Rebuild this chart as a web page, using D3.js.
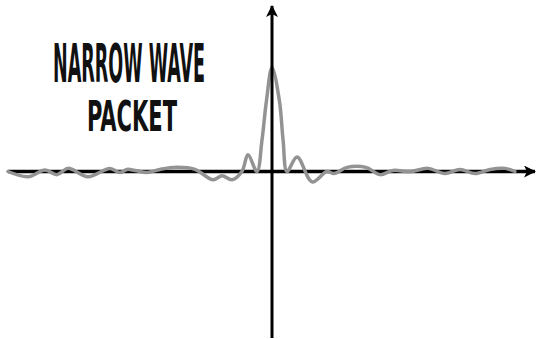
<!DOCTYPE html>
<html>
<head>
<meta charset="utf-8">
<script src="https://cdn.jsdelivr.net/npm/d3@7/dist/d3.min.js"></script>
<style>
html,body{margin:0;padding:0;background:#fff;}
svg{display:block;}
</style>
</head>
<body>
<svg id="chart" width="541" height="339"></svg>
<script>
// Data (x in arbitrary units, amplitude normalised to the peak)
const xValues = [-10.0,-9.24,-8.60,-8.14,-7.73,-6.97,-6.14,-5.76,-5.49,-5.19,-4.73,-4.24,-3.60,-2.92,-2.23,-1.89,-1.52,-1.14,-0.91,-0.57,-0.38,-0.21,0,0.28,0.42,0.57,0.95,1.52,2.08,2.35,2.84,3.56,4.09,4.58,5.23,5.91,6.55,7.12,7.69,8.26,8.83,9.20];
const yValues = [0.00,-0.05,0.015,-0.03,0.03,-0.05,0.03,-0.01,0.02,0.01,-0.01,0.02,0.04,0.02,-0.08,-0.04,-0.08,0.00,0.16,0.00,0.30,0.68,1.00,0.68,0.30,0.00,0.14,-0.10,0.00,-0.02,0.04,0.04,-0.03,0.01,0.00,0.03,-0.02,0.02,-0.02,0.02,0.03,0.00];
const titleLines = ["NARROW WAVE", "PACKET"];

const svg = d3.select("#chart");
const x = d3.scaleLinear().domain([-10, 10]).range([8, 536]);
const y = d3.scaleLinear().domain([-1.6, 1.6]).range([338, 5]);

const defs = svg.append("defs");
defs.append("marker").attr("id","arrow")
  .attr("viewBox","0 0 12 12").attr("refX",11).attr("refY",6)
  .attr("markerWidth",12).attr("markerHeight",12).attr("markerUnits","userSpaceOnUse")
  .attr("orient","auto")
  .append("path").attr("d","M0,0 L12,6 L0,12 L3,6 Z").attr("fill","#000");

// x axis (below curve)
svg.append("line")
  .attr("x1", x(-10)).attr("x2", x(10) - 1)
  .attr("y1", y(0)).attr("y2", y(0))
  .attr("stroke","#000").attr("stroke-width",3.5)
  .attr("marker-end","url(#arrow)");

const data = xValues.map((v,i)=>({x:v, y:yValues[i]}));
const line = d3.line().x(d=>x(d.x)).y(d=>y(d.y)).curve(d3.curveCatmullRom.alpha(0.5));
svg.append("path").datum(data)
  .attr("d", line)
  .attr("fill","none").attr("stroke","#939393").attr("stroke-width",3.5)
  .attr("stroke-linejoin","round").attr("stroke-linecap","round");

// y axis (on top)
svg.append("line")
  .attr("x1", x(0)).attr("x2", x(0))
  .attr("y1", y(-1.6)).attr("y2", y(1.6) + 1)
  .attr("stroke","#000").attr("stroke-width",3)
  .attr("marker-end","url(#arrow)");

// Title
const fam = "'Liberation Sans Narrow','DejaVu Sans Condensed','Liberation Sans',sans-serif";
svg.append("text").text(titleLines[0])
  .attr("x",53).attr("y",82)
  .attr("font-family",fam).attr("font-weight","bold").attr("font-size",54)
  .attr("textLength",152).attr("lengthAdjust","spacingAndGlyphs")
  .attr("fill","#111");
svg.append("text").text(titleLines[1])
  .attr("x",87).attr("y",131)
  .attr("font-family",fam).attr("font-weight","bold").attr("font-size",42)
  .attr("textLength",90).attr("lengthAdjust","spacingAndGlyphs")
  .attr("fill","#111");
</script>
</body>
</html>
